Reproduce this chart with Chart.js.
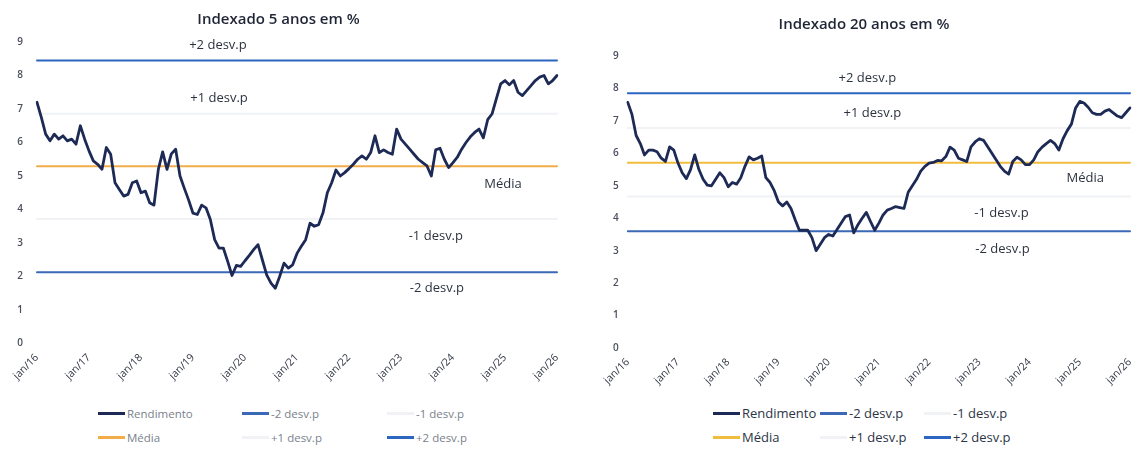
<!DOCTYPE html>
<html lang="pt-BR">
<head>
<meta charset="utf-8">
<title>Indexado 5 e 20 anos em %</title>
<script src="https://cdn.jsdelivr.net/npm/chart.js@4.4.1/dist/chart.umd.min.js"></script>
<style>
  html, body { margin: 0; padding: 0; background: #fff; width: 1137px; height: 453px; overflow: hidden; }
  body { position: relative; font-family: 'Open Sans', sans-serif; }
  .box { position: absolute; top: 0; height: 400px; }
  #box5 { left: 0; width: 578px; }
  #box20 { left: 598px; width: 552px; }
  .legend { position: absolute; display: grid; grid-auto-rows: 24px; align-items: center; }
  .legend .item { display: flex; align-items: center; white-space: nowrap; }
  .legend .sw { display: inline-block; height: 3px; margin-right: 2px; }
  #legend5 { left: 98px; top: 401px; grid-template-columns: 144px 145px 110px; font-size: 11.5px; color: #7a7f8c; }
  #legend5 .sw { width: 27px; }
  #legend20 { left: 713px; top: 401px; grid-template-columns: 107px 104px 110px; font-size: 13px; color: #2c3446; }
  #legend20 .sw { width: 27px; }
</style>
</head>
<body>
<div class="box" id="box5"><canvas id="c5"></canvas></div>
<div class="box" id="box20"><canvas id="c20"></canvas></div>
<div class="legend" id="legend5"></div>
<div class="legend" id="legend20"></div>
<script>
// monthly axis, jan/16 .. jan/26
const monthNames = ['jan', 'fev', 'mar', 'abr', 'mai', 'jun', 'jul', 'ago', 'set', 'out', 'nov', 'dez'];
const years = [16, 17, 18, 19, 20, 21, 22, 23, 24, 25, 26];
const labels = [];
years.forEach(y => monthNames.forEach((m, i) => { if (y < 26 || i === 0) labels.push(m + '/' + y); }));

// real yield, NTN-B 5 anos (% a.a.)
const rend5 = [
  7.20, 6.75, 6.25, 6.05, 6.25, 6.10, 6.20, 6.05, 6.10, 5.95, 6.50, 6.10,
  5.75, 5.45, 5.35, 5.20, 5.85, 5.65, 4.80, 4.60, 4.40, 4.45, 4.80, 4.85,
  4.50, 4.55, 4.20, 4.13, 5.20, 5.72, 5.20, 5.66, 5.80, 5.00, 4.63, 4.28,
  3.89, 3.85, 4.13, 4.05, 3.70, 3.10, 2.85, 2.85, 2.45, 2.03, 2.33, 2.30,
  2.47, 2.63, 2.80, 2.95, 2.50, 2.05, 1.80, 1.65, 2.00, 2.40, 2.25, 2.35,
  2.69, 2.90, 3.10, 3.59, 3.50, 3.55, 3.90, 4.50, 4.80, 5.18, 5.00, 5.10,
  5.22, 5.35, 5.50, 5.60, 5.50, 5.70, 6.20, 5.70, 5.78, 5.70, 5.65, 6.40,
  6.10, 5.95, 5.80, 5.65, 5.50, 5.40, 5.30, 5.00, 5.78, 5.83, 5.50, 5.25,
  5.40, 5.56, 5.80, 6.00, 6.17, 6.30, 6.40, 6.14, 6.68, 6.85, 7.30, 7.75,
  7.85, 7.72, 7.85, 7.50, 7.40, 7.55, 7.70, 7.85, 7.95, 8.00, 7.75, 7.85,
  8.00
];

// real yield, NTN-B 20 anos (% a.a.)
const rend20 = [
  7.57, 7.20, 6.55, 6.30, 5.95, 6.10, 6.10, 6.05, 5.85, 5.75, 6.20, 6.10,
  5.70, 5.40, 5.22, 5.50, 5.95, 5.50, 5.20, 5.02, 5.00, 5.20, 5.40, 5.25,
  4.97, 5.10, 5.05, 5.25, 5.60, 5.89, 5.80, 5.85, 5.92, 5.25, 5.10, 4.85,
  4.50, 4.38, 4.50, 4.30, 3.95, 3.63, 3.63, 3.63, 3.40, 3.00, 3.20, 3.40,
  3.50, 3.45, 3.65, 3.85, 4.05, 4.10, 3.55, 3.80, 4.00, 4.18, 3.90, 3.63,
  3.85, 4.10, 4.25, 4.30, 4.36, 4.33, 4.30, 4.80, 5.00, 5.20, 5.45, 5.60,
  5.70, 5.72, 5.78, 5.77, 5.90, 6.19, 6.10, 5.85, 5.80, 5.75, 6.20, 6.35,
  6.45, 6.40, 6.20, 6.00, 5.80, 5.60, 5.45, 5.36, 5.75, 5.88, 5.80, 5.65,
  5.65, 5.80, 6.05, 6.19, 6.30, 6.40, 6.30, 6.10, 6.45, 6.70, 6.90, 7.40,
  7.60, 7.55, 7.42, 7.25, 7.20, 7.20, 7.30, 7.35, 7.25, 7.15, 7.10, 7.25,
  7.40
];

// mean and standard deviation bands: -2, -1, média, +1, +2
const bandNames = ['-2 desv.p', '-1 desv.p', 'Média', '+1 desv.p', '+2 desv.p'];
const bands5 = [2.13, 3.72, 5.29, 6.86, 8.45];
const bands20 = [3.60, 4.67, 5.71, 6.78, 7.85];

const yTicks = [0, 1, 2, 3, 4, 5, 6, 7, 8, 9];

// writes the band names next to their lines
const bandText = {
  id: 'bandText',
  afterDatasetsDraw(chart, args, opts) {
    const { ctx, chartArea: a, scales: { y } } = chart;
    ctx.save();
    ctx.font = opts.font;
    ctx.fillStyle = opts.color;
    ctx.textAlign = 'center';
    ctx.textBaseline = 'middle';
    opts.items.forEach(it => {
      ctx.fillText(it.text, a.left + it.at * (a.right - a.left), y.getPixelForValue(it.value));
    });
    ctx.restore();
  }
};

function makeChart(id, title, rend, bands, cfg) {
  const line = (label, data, color, width) => ({
    label, data, borderColor: color, backgroundColor: color,
    borderWidth: width, pointRadius: 0, tension: 0, fill: false,
    borderJoinStyle: 'round', borderCapStyle: 'round'
  });
  const flat = v => labels.map(() => v);

  return new Chart(document.getElementById(id), {
    type: 'line',
    data: {
      labels,
      datasets: [
        line('Rendimento', rend, '#1d2a55', 2.8),
        line(bandNames[0], flat(bands[0]), '#3b69b8', 2),
        line(bandNames[1], flat(bands[1]), '#f0f2f5', 2),
        line(bandNames[2], flat(bands[2]), cfg.mediaColor, 2),
        line(bandNames[3], flat(bands[3]), '#f0f2f5', 2),
        line(bandNames[4], flat(bands[4]), '#2d66c0', 2)
      ]
    },
    options: {
      responsive: true,
      maintainAspectRatio: false,
      animation: false,
      layout: { padding: { left: 0, right: cfg.padRight, top: 0, bottom: 0 } },
      plugins: {
        legend: { display: false },
        tooltip: { enabled: false },
        title: {
          display: true, text: title, color: '#1f2535',
          font: { family: "'Open Sans', sans-serif", size: 15, weight: '600' },
          padding: cfg.titlePad
        },
        bandText: {
          font: cfg.bandFont, color: '#2c3340',
          items: cfg.bandLabels
        }
      },
      scales: {
        x: {
          grid: { display: false, drawTicks: false },
          border: { display: false },
          ticks: {
            autoSkip: false, minRotation: 45, maxRotation: 45, padding: 8,
            color: '#333846', font: { family: "'Open Sans', sans-serif", size: 10.5 },
            callback: (v, i) => (i % 12 === 0 ? labels[i] : '')
          },
          afterFit: s => { s.height = cfg.xHeight; }
        },
        y: {
          min: yTicks[0], max: yTicks[yTicks.length - 1],
          grid: { display: false, drawTicks: false },
          border: { display: false },
          ticks: {
            stepSize: 1, padding: cfg.yPad, color: '#4a4f5c',
            font: { family: "'Open Sans', sans-serif", size: 10, weight: '600' }
          },
          afterFit: s => { s.width = cfg.yWidth; }
        }
      }
    },
    plugins: [bandText]
  });
}

function buildLegend(chart, el) {
  chart.data.datasets.forEach(ds => {
    const item = document.createElement('div');
    item.className = 'item';
    item.innerHTML = `<span class="sw" style="background:${ds.borderColor}"></span>${ds.label}`;
    el.appendChild(item);
  });
}

const chart5 = makeChart('c5', 'Indexado 5 anos em %', rend5, bands5, {
  mediaColor: '#f2ad4a',
  padRight: 21,
  titlePad: { top: 10.5, bottom: 13.5 },
  xHeight: 56.5,
  yWidth: 37,
  yPad: 14,
  bandFont: "13px 'Open Sans', sans-serif",
  bandLabels: [
    { text: '+2 desv.p', value: 8.89, at: 0.348 },
    { text: '+1 desv.p', value: 7.33, at: 0.350 },
    { text: 'Média', value: 4.75, at: 0.896 },
    { text: '-1 desv.p', value: 3.19, at: 0.767 },
    { text: '-2 desv.p', value: 1.66, at: 0.769 }
  ]
});

const chart20 = makeChart('c20', 'Indexado 20 anos em %', rend20, bands20, {
  mediaColor: '#f1bd3e',
  padRight: 20,
  titlePad: { top: 16, bottom: 22 },
  xHeight: 52,
  yWidth: 25,
  yPad: 9,
  bandFont: "13px 'Open Sans', sans-serif",
  bandLabels: [
    { text: '+2 desv.p', value: 8.30, at: 0.477 },
    { text: '+1 desv.p', value: 7.23, at: 0.487 },
    { text: 'Média', value: 5.23, at: 0.911 },
    { text: '-1 desv.p', value: 4.15, at: 0.744 },
    { text: '-2 desv.p', value: 3.05, at: 0.746 }
  ]
});

buildLegend(chart5, document.getElementById('legend5'));
buildLegend(chart20, document.getElementById('legend20'));
</script>
</body>
</html>
